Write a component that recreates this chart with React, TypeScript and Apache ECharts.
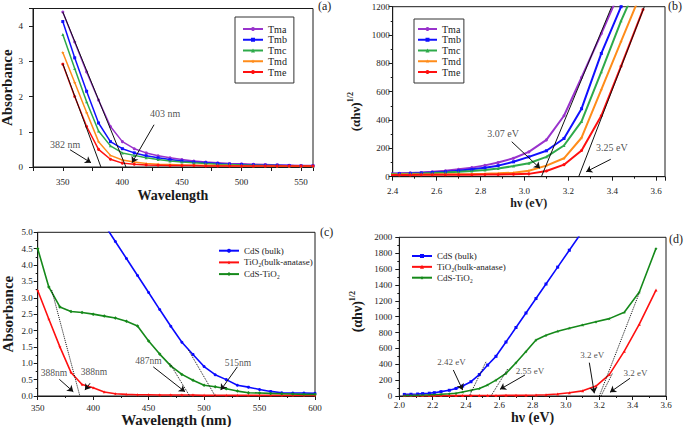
import React, { useEffect, useRef } from 'react';
import * as echarts from 'echarts';

// ---------- Panel (a): absorbance vs wavelength ----------
const wavelengthA = [350, 360, 370, 380, 390, 400, 410, 420, 430, 440, 450, 460, 470, 480, 490, 500, 510, 520, 530, 540, 550, 560];
const tmaA = [4.4, 3.55, 2.7, 1.9, 1.15, 0.72, 0.52, 0.4, 0.32, 0.26, 0.21, 0.17, 0.14, 0.12, 0.1, 0.09, 0.08, 0.07, 0.06, 0.05, 0.04, 0.04];
const tmbA = [4.13, 3.1, 2.15, 1.25, 0.72, 0.52, 0.4, 0.32, 0.26, 0.21, 0.17, 0.14, 0.12, 0.1, 0.08, 0.07, 0.06, 0.05, 0.05, 0.04, 0.03, 0.03];
const tmcA = [3.76, 2.8, 1.85, 1.02, 0.6, 0.4, 0.33, 0.26, 0.21, 0.17, 0.14, 0.12, 0.1, 0.08, 0.07, 0.06, 0.05, 0.04, 0.04, 0.03, 0.03, 0.03];
const tmdA = [3.25, 2.4, 1.55, 0.72, 0.33, 0.2, 0.14, 0.1, 0.08, 0.07, 0.06, 0.05, 0.05, 0.04, 0.04, 0.03, 0.03, 0.03, 0.02, 0.02, 0.02, 0.02];
const tmeA = [2.92, 2.0, 1.15, 0.5, 0.22, 0.11, 0.08, 0.06, 0.05, 0.04, 0.04, 0.04, 0.03, 0.03, 0.03, 0.03, 0.03, 0.03, 0.03, 0.03, 0.03, 0.03];
const tangentsA = [[[350, 4.4], [403, 0]], [[350, 2.93], [382, 0]]];
const arrowsA = [[426.6, 1.2, 408.1, 0.12], [356.1, 0.49, 373.7, 0.12]];
const notesA = [{ text: '403 nm', x: 435.8, y: 1.51 }, { text: '382 nm', x: 351.9, y: 0.64 }];

// ---------- Panel (b): Tauc plot ----------
const energyB = [2.38, 2.43, 2.48, 2.53, 2.58, 2.64, 2.70, 2.76, 2.82, 2.88, 2.95, 3.02, 3.10, 3.18, 3.26, 3.35, 3.44, 3.54];
const tmaB = [22, 24, 27, 30, 35, 42, 52, 64, 80, 100, 130, 175, 260, 430, 700, 1010, 1330, 1700];
const tmbB = [20, 21, 23, 26, 30, 35, 42, 52, 63, 78, 105, 140, 183, 270, 480, 870, 1200, 1600];
const tmcB = [18, 19, 21, 23, 26, 30, 35, 41, 48, 58, 75, 95, 140, 220, 390, 740, 1100, 1450];
const tmdB = [14, 15, 15, 16, 16, 17, 18, 19, 21, 24, 28, 42, 78, 130, 275, 615, 955, 1330];
const tmeB = [12, 12, 12, 13, 13, 13, 14, 14, 15, 16, 18, 20, 40, 85, 185, 430, 780, 1180];
const tangentsB = [[[3.077, 0], [3.397, 1200]], [[3.247, 0], [3.546, 1200]]];
const arrowsB = [[2.942, 247, 3.071, 59], [3.393, 123, 3.281, 35]];
const notesB = [{ text: '3.07 eV', x: 2.9025, y: 308 }, { text: '3.25 eV', x: 3.398, y: 203 }];

// ---------- Panel (c): absorbance vs wavelength ----------
const wavelengthC = [350, 360, 370, 380, 390, 400, 410, 420, 430, 440, 450, 460, 470, 480, 490, 500, 510, 520, 530, 540, 550, 560, 570, 580, 590, 600];
const cdsC = [null, null, null, null, null, null, 5.24, 4.72, 4.2, 3.68, 3.16, 2.64, 2.13, 1.64, 1.27, 0.9, 0.65, 0.5, 0.33, 0.27, 0.2, 0.14, 0.1, 0.09, 0.09, 0.08];
const tio2C = [3.22, 2.35, 1.5, 0.72, 0.35, 0.25, 0.12, 0.07, 0.05, 0.04, 0.04, 0.03, 0.03, 0.03, 0.03, 0.02, 0.02, 0.02, 0.02, 0.02, 0.02, 0.02, 0.02, 0.02, 0.02, 0.02];
const cdsTio2C = [4.5, 3.33, 2.72, 2.58, 2.55, 2.5, 2.44, 2.38, 2.28, 2.14, 1.68, 1.28, 0.92, 0.66, 0.48, 0.33, 0.28, 0.22, 0.15, 0.1, 0.09, 0.08, 0.07, 0.06, 0.05, 0.05];
const tangentsC = [[[362.6, 3.24], [388, 0]], [[469, 1.0], [487, 0]], [[486, 1.4], [510, 0]]];
const arrowsC = [[369.5, 0.51, 382.1, 0.13], [397.2, 0.39, 392.6, 0.18], [454.2, 0.89, 482.8, 0.13], [530, 0.89, 515, 0.18]];
const notesC = [{ text: '388nm', x: 364.7, y: 0.71 }, { text: '388nm', x: 400.8, y: 0.74 }, { text: '487nm', x: 449.9, y: 1.07 }, { text: '515nm', x: 530.6, y: 1.0 }];

// ---------- Panel (d): Tauc plot ----------
const energyD = [2.03, 2.07, 2.11, 2.14, 2.18, 2.21, 2.25, 2.30, 2.34, 2.38, 2.43, 2.48, 2.53, 2.58, 2.64, 2.70, 2.76, 2.82, 2.88, 2.95, 3.02, 3.10, 3.18, 3.26, 3.35, 3.44, 3.54];
const cdsD = [20, 22, 25, 30, 35, 42, 55, 72, 95, 125, 180, 270, 390, 500, 680, 863, 1046, 1228, 1411, 1624, 1837, 2080, 2320, 2560, 2830, 3100, 3400];
const tio2D = [5, 5, 5, 5, 5, 5, 5, 5, 5, 6, 6, 6, 7, 7, 8, 8, 10, 12, 15, 25, 40, 65, 125, 270, 565, 905, 1335];
const cdsTio2D = [5, 7, 10, 12, 15, 18, 22, 28, 35, 50, 72, 95, 140, 200, 285, 420, 560, 705, 765, 815, 855, 895, 935, 975, 1055, 1310, 1860];
const tangentsD = [[[2.52, 430], [2.42, 0]], [[2.65, 340], [2.55, 0]], [[3.2, 0], [3.44, 1300]], [[3.21, 0], [3.28, 290]]];
const arrowsD = [[2.324, 328, 2.38, 76], [2.754, 265, 2.604, 84], [3.14, 420, 3.17, 34], [3.384, 223, 3.264, 47]];
const notesD = [{ text: '2.42 eV', x: 2.313, y: 432 }, { text: '2.55 eV', x: 2.784, y: 319 }, { text: '3.2 eV', x: 3.157, y: 517 }, { text: '3.2 eV', x: 3.417, y: 294 }];

const tmNames = ['Tma', 'Tmb', 'Tmc', 'Tmd', 'Tme'];
const sampleNames = ['CdS (bulk)', 'TiO\u2082(bulk-anatase)', 'CdS-TiO\u2082'];

const FONT = '"Liberation Serif", "DejaVu Serif", "Times New Roman", serif';
const INK = '#1a1a1a';
const STAR = 'path://M50,0 L61,35 L98,35 L68,57 L79,91 L50,70 L21,91 L32,57 L2,35 L39,35 Z';
const ZW = '\u200b';

const tmColors = ['#9933CC', '#1010FF', '#2EAA4A', '#FF8C1A', '#FF1010'];
const tmSymbols = ['circle', 'rect', 'triangle', STAR, 'circle'];

function zip(xs: number[], ys: (number | null)[]) {
  return xs.map((x, i) => [x, ys[i]]);
}

function lineSeries(name: string, gi: number, xs: number[], ys: (number | null)[], color: string, symbol: string, width: number, size: number) {
  return {
    type: 'line', name, xAxisIndex: gi, yAxisIndex: gi, data: zip(xs, ys),
    symbol, symbolSize: size, showSymbol: true, connectNulls: false,
    lineStyle: { color, width }, itemStyle: { color }, z: 2,
  };
}

function tangentSeries(gi: number, lines: number[][][], dotted: boolean) {
  return lines.map((seg) => ({
    type: 'line', xAxisIndex: gi, yAxisIndex: gi, data: seg, showSymbol: false, symbol: 'none', silent: true,
    lineStyle: { color: '#111', width: 1, type: dotted ? 'dotted' : 'solid' }, z: 3,
  }));
}

function arrowSeries(gi: number, arrows: number[][]) {
  return {
    type: 'line', xAxisIndex: gi, yAxisIndex: gi, data: [], silent: true,
    markLine: {
      silent: true, symbol: ['none', 'arrow'], symbolSize: 6, animation: false,
      label: { show: false }, lineStyle: { color: '#111', width: 1, type: 'solid' },
      data: arrows.map((a) => [{ coord: [a[0], a[1]] }, { coord: [a[2], a[3]] }]),
    },
  };
}

function noteSeries(gi: number, notes: { text: string; x: number; y: number }[], size: number) {
  return {
    type: 'scatter', xAxisIndex: gi, yAxisIndex: gi, silent: true, symbolSize: 1,
    itemStyle: { color: 'rgba(0,0,0,0)' },
    data: notes.map((n) => ({ name: n.text, value: [n.x, n.y] })),
    label: { show: true, formatter: '{b}', position: 'inside', fontSize: size, fontFamily: FONT, color: '#222' },
    z: 4,
  };
}

function axisCommon(labelSize: number, margin: number, formatter: (v: number) => string) {
  return {
    type: 'value',
    axisLine: { show: true, onZero: false, lineStyle: { color: INK, width: 1 } },
    axisTick: { show: true, length: 4, lineStyle: { color: INK } },
    minorTick: { show: true, splitNumber: 2, length: 2, lineStyle: { color: INK } },
    splitLine: { show: false },
    axisLabel: { fontSize: labelSize, color: '#222', fontFamily: FONT, margin, formatter },
  };
}

const isMult = (v: number, step: number) => Math.abs(v / step - Math.round(v / step)) < 1e-6;

export default function App() {
  const ref = useRef<HTMLDivElement>(null);
  useEffect(() => {
    const chart = echarts.init(ref.current!, null, { renderer: 'svg' });
    const nameStyle = (size: number) => ({ fontSize: size, fontWeight: 'bold', fontFamily: FONT, color: INK });
    const supName = (size: number, pad: number[]) => ({
      fontSize: size, fontWeight: 'bold', fontFamily: FONT, color: INK, lineHeight: size + 4, padding: pad,
      rich: { sup: { fontSize: Math.round(size * 0.6), fontWeight: 'bold', fontFamily: FONT, color: INK, verticalAlign: 'top', lineHeight: 8 } },
    });
    const titleStyle = { fontSize: 12, fontWeight: 'normal', fontFamily: FONT, color: INK };
    const option: any = {
      animation: false,
      backgroundColor: '#fff',
      title: [
        { text: '(a)', left: 318, top: 0, padding: 0, textStyle: titleStyle },
        { text: '(b)', left: 668, top: 0, padding: 0, textStyle: titleStyle },
        { text: '(c)', left: 320, top: 226, padding: 0, textStyle: titleStyle },
        { text: '(d)', left: 669, top: 233, padding: 0, textStyle: titleStyle },
      ],
      grid: [
        { left: 33, top: 8.5, width: 280, height: 158.5, show: true, borderColor: INK, borderWidth: 1, containLabel: false, outerBoundsMode: 'none' },
        { left: 392.7, top: 6.7, width: 272.3, height: 170, show: true, borderColor: INK, borderWidth: 1, containLabel: false, outerBoundsMode: 'none' },
        { left: 37.7, top: 232.3, width: 277.3, height: 163.7, show: true, borderColor: INK, borderWidth: 1, containLabel: false, outerBoundsMode: 'none' },
        { left: 399.3, top: 237.3, width: 266.7, height: 158.7, show: true, borderColor: INK, borderWidth: 1, containLabel: false, outerBoundsMode: 'none' },
      ],
      xAxis: [
        { ...axisCommon(9, 10, (v: number) => (isMult(v, 50) && v < 560 ? String(v) : '')), gridIndex: 0, min: 325, max: 560, interval: 25, minorTick: { show: false },
          name: 'Wavelength', nameLocation: 'middle', nameGap: 21, nameTextStyle: nameStyle(14) },
        { ...axisCommon(9, 10, (v: number) => (isMult(v, 0.2) && v < 3.62 ? v.toFixed(1) : '')), gridIndex: 1, min: 2.4, max: 3.64, interval: 0.2,
          name: 'h\u03bd (eV)', nameLocation: 'middle', nameGap: 18, nameTextStyle: nameStyle(12) },
        { ...axisCommon(9, 7, (v: number) => String(v)), gridIndex: 2, min: 350, max: 600, interval: 50,
          name: 'Wavelength (nm)', nameLocation: 'middle', nameGap: 15, nameTextStyle: nameStyle(15) },
        { ...axisCommon(9, 4, (v: number) => v.toFixed(1)), gridIndex: 3, min: 2.0, max: 3.6, interval: 0.2,
          name: 'h\u03bd (eV)', nameLocation: 'middle', nameGap: 14, nameTextStyle: nameStyle(14) },
      ],
      yAxis: [
        { ...axisCommon(9, 10, (v: number) => (Number.isInteger(v) ? String(v) : '')), gridIndex: 0, min: 0, max: 4.5, interval: 1, minorTick: { show: false },
          name: 'Absorbance', nameLocation: 'middle', nameGap: 17, nameTextStyle: nameStyle(15) },
        { ...axisCommon(9, 3, (v: number) => String(v)), gridIndex: 1, min: 0, max: 1200, interval: 200,
          name: '(\u03b1h\u03bd){sup|1/2}', nameLocation: 'middle', nameGap: 29, nameTextStyle: supName(13, [0, 40, 0, 0]) },
        { ...axisCommon(9, 5, (v: number) => v.toFixed(1)), gridIndex: 2, min: 0, max: 5, interval: 0.5,
          name: 'Absorbance', nameLocation: 'middle', nameGap: 22, nameTextStyle: nameStyle(15) },
        { ...axisCommon(9, 7, (v: number) => String(v)), gridIndex: 3, min: 0, max: 2000, interval: 200,
          name: '(\u03b1h\u03bd){sup|1/2}', nameLocation: 'middle', nameGap: 33, nameTextStyle: supName(14, [0, 0, 0, 10]) },
      ],
      legend: [
        { data: tmNames, orient: 'vertical', left: 235, top: 17, padding: [7, 7, 6, 7], borderColor: '#333', borderWidth: 1,
          itemWidth: 20, itemHeight: 5, itemGap: 0.75, textStyle: { fontSize: 10, lineHeight: 10, fontFamily: FONT, color: INK } },
        { data: tmNames.map((n) => n + ZW), formatter: (n: string) => n.replace(ZW, ''), orient: 'vertical', left: 414, top: 19, padding: [5, 3, 6, 3],
          borderColor: '#333', borderWidth: 1, itemWidth: 19, itemHeight: 5, itemGap: 0.75, textStyle: { fontSize: 10, lineHeight: 10, fontFamily: FONT, color: INK } },
        { data: sampleNames, orient: 'vertical', left: 218, top: 245.7, padding: 0,
          itemWidth: 20, itemHeight: 5, itemGap: 1.7, textStyle: { fontSize: 9, lineHeight: 10, fontFamily: FONT, color: INK } },
        { data: sampleNames.map((n) => n + ZW), formatter: (n: string) => n.replace(ZW, ''), orient: 'vertical', left: 411, top: 251, padding: 0,
          itemWidth: 20, itemHeight: 5, itemGap: 0.85, textStyle: { fontSize: 9, lineHeight: 10, fontFamily: FONT, color: INK } },
      ],
      series: [
        lineSeries('Tma', 0, wavelengthA, tmaA, tmColors[0], tmSymbols[0], 1.5, 3),
        lineSeries('Tmb', 0, wavelengthA, tmbA, tmColors[1], tmSymbols[1], 1.5, 3),
        lineSeries('Tmc', 0, wavelengthA, tmcA, tmColors[2], tmSymbols[2], 1.5, 3),
        lineSeries('Tmd', 0, wavelengthA, tmdA, tmColors[3], tmSymbols[3], 1.5, 3.5),
        lineSeries('Tme', 0, wavelengthA, tmeA, tmColors[4], tmSymbols[4], 1.5, 3),
        ...tangentSeries(0, tangentsA, false),
        arrowSeries(0, arrowsA),
        noteSeries(0, notesA, 10),

        lineSeries('Tma' + ZW, 1, energyB, tmaB, tmColors[0], tmSymbols[0], 2, 3),
        lineSeries('Tmb' + ZW, 1, energyB, tmbB, tmColors[1], tmSymbols[1], 2, 3),
        lineSeries('Tmc' + ZW, 1, energyB, tmcB, tmColors[2], tmSymbols[2], 2, 3),
        lineSeries('Tmd' + ZW, 1, energyB, tmdB, tmColors[3], tmSymbols[3], 2, 3.5),
        lineSeries('Tme' + ZW, 1, energyB, tmeB, tmColors[4], tmSymbols[4], 2, 3),
        ...tangentSeries(1, tangentsB, false),
        arrowSeries(1, arrowsB),
        noteSeries(1, notesB, 10),

        lineSeries(sampleNames[0], 2, wavelengthC, cdsC, '#0A0AFF', 'circle', 1.6, 3),
        lineSeries(sampleNames[1], 2, wavelengthC, tio2C, '#FF1010', STAR, 1.6, 3.5),
        lineSeries(sampleNames[2], 2, wavelengthC, cdsTio2C, '#15891A', 'diamond', 1.6, 3.5),
        ...tangentSeries(2, tangentsC, true),
        arrowSeries(2, arrowsC),
        noteSeries(2, notesC, 9.5),

        lineSeries(sampleNames[0] + ZW, 3, energyD, cdsD, '#0A0AFF', 'rect', 1.6, 3),
        lineSeries(sampleNames[1] + ZW, 3, energyD, tio2D, '#FF1010', 'triangle', 1.6, 3),
        lineSeries(sampleNames[2] + ZW, 3, energyD, cdsTio2D, '#15891A', STAR, 1.6, 3.5),
        ...tangentSeries(3, tangentsD, true),
        arrowSeries(3, arrowsD),
        noteSeries(3, notesD, 9),
      ],
    };
    chart.setOption(option);
    return () => chart.dispose();
  }, []);
  return <div ref={ref} style={{ position: 'fixed', left: 0, top: 0, width: 685, height: 427 }} />;
}
